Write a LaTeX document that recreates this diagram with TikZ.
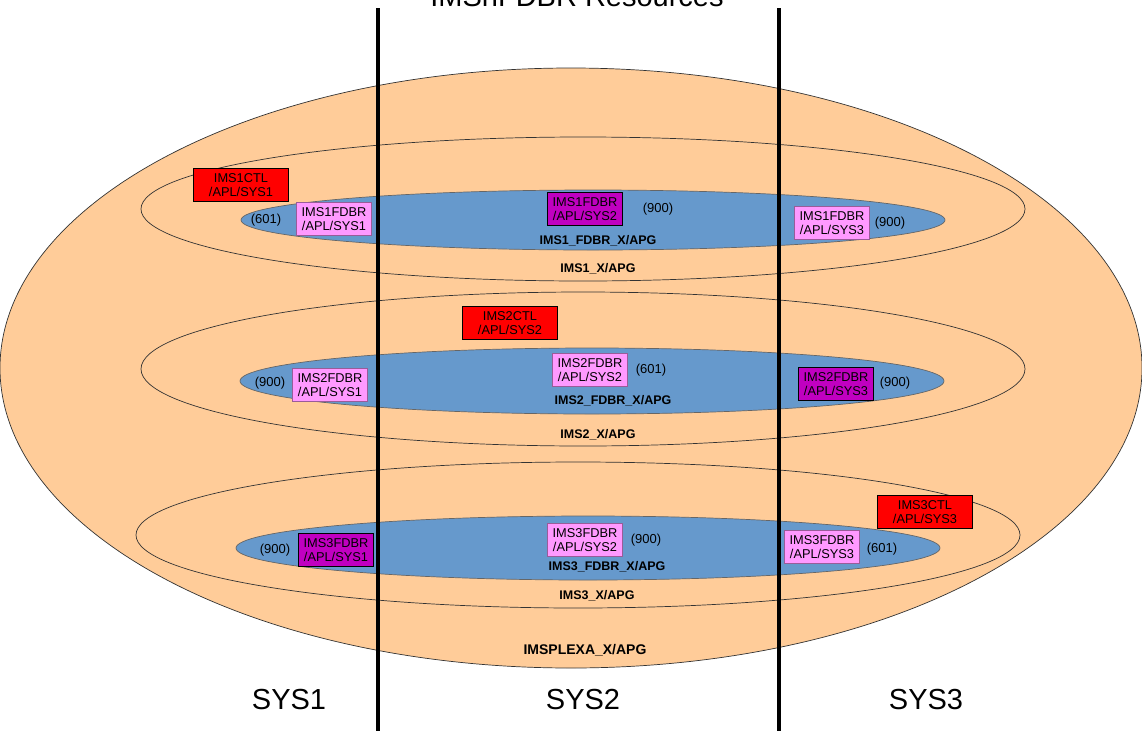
\documentclass[tikz,border=0pt]{standalone}
\usepackage{fontspec}
\setmainfont{Liberation Sans}
\usepackage{xcolor}
\usepackage{tikz}
\usetikzlibrary{positioning}

\definecolor{peach}{HTML}{FFCC99}
\definecolor{steel}{HTML}{6699CC}
\definecolor{lilac}{HTML}{FF99FF}
\definecolor{magent}{HTML}{C000C0}

\begin{document}
\begin{tikzpicture}[x=1pt, y=-1pt,
    resbox/.style={rectangle, draw=#1!60!black, fill=#1, line width=0.8pt, minimum width=75pt, minimum height=33pt, inner sep=1pt, align=center, font=\fontsize{12.8}{14.5}\selectfont},
    resbox/.default=lilac,
    ctlbox/.style={resbox=red, draw=black, minimum width=95pt},
    actbox/.style={resbox=magent, draw=black},
    num/.style={font=\fontsize{13}{15}\selectfont},
    grp/.style={font=\bfseries\fontsize{12.5}{14}\selectfont},
    sysl/.style={font=\fontsize{29}{32}\selectfont},
    ring/.style={draw=black!80, line width=0.7pt},
  ]
    \useasboundingbox (0,0) rectangle (1142,731);

    % Plex and groups
    \draw[ring, fill=peach] (571,368) ellipse [x radius=571, y radius=300];
    \draw[ring] (583,209) ellipse [x radius=442, y radius=72];
    \draw[ring] (583,369) ellipse [x radius=442, y radius=77];
    \draw[ring] (578,535) ellipse [x radius=442, y radius=73];

    % FDBR groups
    \draw[ring, fill=steel, draw=black!60] (593,220) ellipse [x radius=352, y radius=30];
    \draw[ring, fill=steel, draw=black!60] (592,381) ellipse [x radius=352, y radius=33];
    \draw[ring, fill=steel, draw=black!60] (588,548) ellipse [x radius=352, y radius=32];

    % System dividers
    \coordinate (d1t) at (378,8);
    \coordinate (d1b) at (378,731);
    \coordinate (d2t) at (779,8);
    \coordinate (d2b) at (779,731);
    \draw[line width=3.5pt] (d1t) -- (d1b);
    \draw[line width=3.5pt] (d2t) -- (d2b);

    % Title (cut at the top)
    \node[sysl, anchor=base] (title) at (577,6) {IMSnFDBR Resources};

    % IMS1
    \node[ctlbox] (ctl1) at (241,185) {IMS1CTL\\/APL/SYS1};
    \node[resbox] (f11) at (334,219) {IMS1FDBR\\/APL/SYS1};
    \node[num] (n11) at (266,220) {(601)};
    \node[actbox] (f12) at (585,209) {IMS1FDBR\\/APL/SYS2};
    \node[num] (n12) at (658,209) {(900)};
    \node[resbox] (f13) at (832,223) {IMS1FDBR\\/APL/SYS3};
    \node[num] (n13) at (890,223) {(900)};
    \node[grp] (g1f) at (598,241) {IMS1\_FDBR\_X/APG};
    \node[grp] (g1) at (598,269) {IMS1\_X/APG};

    % IMS2
    \node[ctlbox] (ctl2) at (510,323) {IMS2CTL\\/APL/SYS2};
    \node[resbox] (f21) at (330,385) {IMS2FDBR\\/APL/SYS1};
    \node[num] (n21) at (270,383) {(900)};
    \node[resbox] (f22) at (590,370) {IMS2FDBR\\/APL/SYS2};
    \node[num] (n22) at (651,370) {(601)};
    \node[actbox] (f23) at (836,384) {IMS2FDBR\\/APL/SYS3};
    \node[num] (n23) at (895,383) {(900)};
    \node[grp] (g2f) at (613,401) {IMS2\_FDBR\_X/APG};
    \node[grp] (g2) at (598,435) {IMS2\_X/APG};

    % IMS3
    \node[ctlbox] (ctl3) at (925,512) {IMS3CTL\\/APL/SYS3};
    \node[actbox] (f31) at (336,550) {IMS3FDBR\\/APL/SYS1};
    \node[num] (n31) at (275,550) {(900)};
    \node[resbox] (f32) at (585,540) {IMS3FDBR\\/APL/SYS2};
    \node[num] (n32) at (646,540) {(900)};
    \node[resbox] (f33) at (822,547) {IMS3FDBR\\/APL/SYS3};
    \node[num] (n33) at (882,549) {(601)};
    \node[grp] (g3f) at (607,567) {IMS3\_FDBR\_X/APG};
    \node[grp] (g3) at (597,596) {IMS3\_X/APG};

    \node[grp, font=\bfseries\fontsize{14}{16}\selectfont] (plex) at (585,650) {IMSPLEXA\_X/APG};

    % Systems
    \node[sysl] (sys1) at (289,700) {SYS1};
    \node[sysl] (sys2) at (583,700) {SYS2};
    \node[sysl] (sys3) at (926,700) {SYS3};

  \end{tikzpicture}
\end{document}
